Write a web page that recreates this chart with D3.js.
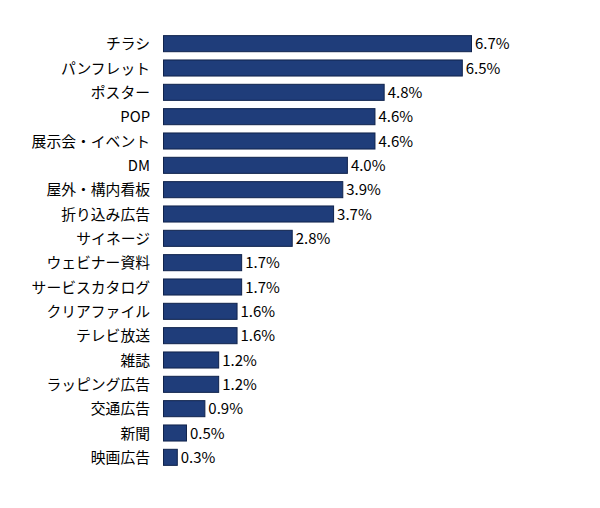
<!DOCTYPE html>
<html><head><meta charset="utf-8">
<script src="https://cdn.jsdelivr.net/npm/d3@7"></script>
<style>body{margin:0;background:#fff}svg{display:block}</style>
</head><body>
<script>
const categories = ["チラシ","パンフレット","ポスター","POP","展示会・イベント","DM","屋外・構内看板","折り込み広告","サイネージ","ウェビナー資料","サービスカタログ","クリアファイル","テレビ放送","雑誌","ラッピング広告","交通広告","新聞","映画広告"];
const values = [6.7,6.5,4.8,4.6,4.6,4.0,3.9,3.7,2.8,1.7,1.7,1.6,1.6,1.2,1.2,0.9,0.5,0.3];

const W=600,H=508;
const svg=d3.select("body").append("svg").attr("width",W).attr("height",H);
const x=d3.scaleLinear().domain([0,6.7]).range([163.5,471.5]);
const y=d3.scaleBand().domain(categories).range([31.5,469.5]).paddingInner(0.34).paddingOuter(0.17);
const font="'Noto Sans CJK JP','Noto Sans',sans-serif";
const data=categories.map((c,i)=>({c,v:values[i]}));

svg.selectAll("rect.bar").data(data).join("rect")
  .attr("x",x(0)).attr("y",d=>y(d.c))
  .attr("width",d=>x(d.v)-x(0)).attr("height",y.bandwidth())
  .attr("fill","#1f3d7a").attr("stroke","#10234c").attr("stroke-width",1);

svg.selectAll("text.lab").data(data).join("text")
  .attr("x",150).attr("y",d=>y(d.c)+y.bandwidth()/2-1)
  .attr("text-anchor","end").attr("dominant-baseline","central")
  .attr("font-family",font).attr("font-size",14.8).attr("fill","#000")
  .text(d=>d.c);

svg.selectAll("text.val").data(data).join("text")
  .attr("x",d=>x(d.v)+3.5).attr("y",d=>y(d.c)+y.bandwidth()/2-1)
  .attr("dominant-baseline","central")
  .attr("font-family",font).attr("font-size",15).attr("fill","#000")
  .text(d=>d.v.toFixed(1)+"%");
</script>
</body></html>
